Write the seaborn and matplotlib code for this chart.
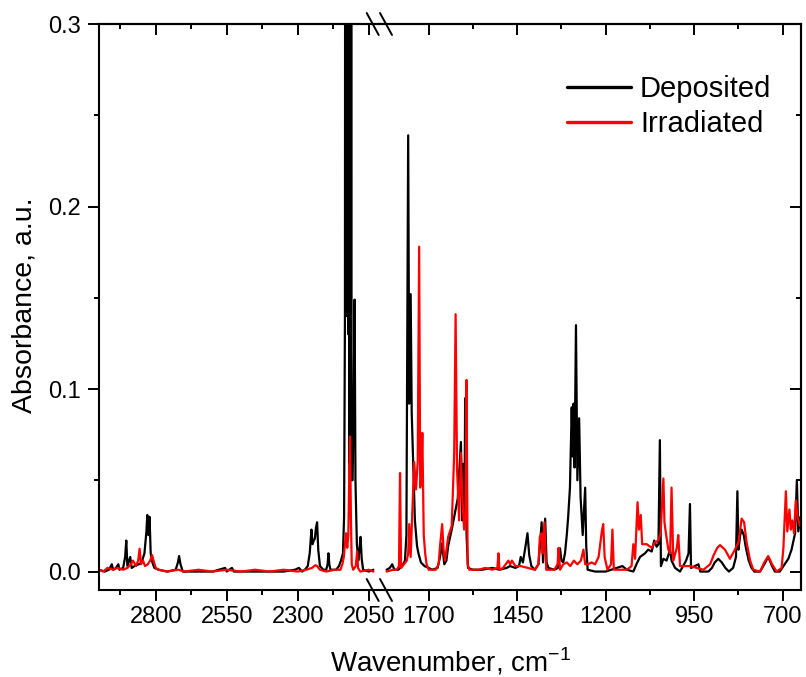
import matplotlib
matplotlib.use("Agg")
import matplotlib.pyplot as plt
from matplotlib.lines import Line2D
import pandas as pd
import seaborn as sns

# spectra: (wavenumber cm-1, absorbance)
deposited_high = [
    (3000, 0.001), (2980, 0.000), (2965, 0.001), (2955, 0.004), (2950, 0.001), (2940, 0.002),
    (2932, 0.004), (2928, 0.001), (2915, 0.002), (2908, 0.008), (2904, 0.017), (2900, 0.003),
    (2890, 0.008), (2885, 0.002), (2875, 0.003), (2860, 0.004), (2850, 0.005), (2840, 0.010),
    (2833, 0.022), (2830, 0.031), (2826, 0.020), (2822, 0.030), (2818, 0.010), (2812, 0.005),
    (2805, 0.002), (2790, 0.001), (2760, 0.000), (2730, 0.001), (2722, 0.005), (2718, 0.0085),
    (2713, 0.004), (2705, 0.000), (2650, 0.000), (2600, 0.000), (2556, 0.002), (2550, 0.000),
    (2532, 0.002), (2525, 0.000), (2450, 0.000), (2400, 0.000), (2350, 0.000), (2310, 0.001),
    (2296, 0.002), (2285, 0.000), (2275, 0.001), (2265, 0.003), (2258, 0.010), (2252, 0.023),
    (2248, 0.015), (2244, 0.017), (2240, 0.018), (2236, 0.024), (2232, 0.027), (2228, 0.012),
    (2222, 0.003), (2210, 0.001), (2200, 0.001), (2195, 0.004), (2192, 0.010), (2189, 0.004),
    (2185, 0.001), (2165, 0.001), (2155, 0.003), (2148, 0.006), (2141, 0.010), (2137, 0.030),
    # saturated, noisy band
    (2134, 0.14), (2133, 0.45), (2132, 0.15), (2131, 0.50), (2130, 0.14), (2129, 0.50),
    (2128, 0.16), (2127, 0.50), (2126, 0.14), (2125, 0.50), (2124, 0.15), (2123, 0.50),
    (2122, 0.13), (2120, 0.50), (2119, 0.06), (2118, 0.50), (2117, 0.05), (2116, 0.50),
    (2115, 0.06), (2114, 0.50), (2113, 0.05), (2112, 0.50), (2111, 0.10),
    (2107, 0.050), (2103, 0.100), (2100, 0.149), (2097, 0.050),
    (2092, 0.015), (2087, 0.006), (2083, 0.012), (2079, 0.019), (2075, 0.007), (2070, 0.001),
    (2050, 0.000), (2034, 0.001),
]
irradiated_high = [
    (3000, 0.001), (2985, 0.000), (2970, 0.002), (2950, 0.001), (2935, 0.002), (2915, 0.001),
    (2900, 0.002), (2888, 0.004), (2880, 0.006), (2870, 0.003), (2862, 0.006), (2857, 0.0125),
    (2852, 0.004), (2845, 0.006), (2838, 0.003), (2828, 0.004), (2820, 0.006), (2813, 0.009),
    (2808, 0.006), (2800, 0.002), (2790, 0.001), (2760, 0.000), (2720, 0.001), (2700, 0.000),
    (2650, 0.001), (2600, 0.000), (2550, 0.001), (2500, 0.000), (2450, 0.001), (2400, 0.000),
    (2350, 0.001), (2300, 0.000), (2270, 0.001), (2250, 0.002), (2238, 0.0035), (2232, 0.003),
    (2222, 0.001), (2200, 0.000), (2170, 0.001), (2150, 0.001), (2143, 0.004), (2138, 0.008),
    (2134, 0.015), (2130, 0.021), (2126, 0.013), (2122, 0.020), (2119, 0.050), (2116, 0.074),
    (2113, 0.030), (2110, 0.004), (2105, 0.001), (2096, 0.003), (2091, 0.011), (2088, 0.002),
    (2080, 0.000), (2050, 0.001), (2034, 0.000),
]
deposited_low = [
    (1819, 0.001), (1810, 0.002), (1803, 0.004), (1797, 0.001), (1786, 0.001), (1775, 0.003),
    (1767, 0.006), (1763, 0.020), (1760, 0.150), (1758, 0.239), (1755, 0.092), (1751, 0.152),
    (1748, 0.087), (1744, 0.060), (1739, 0.028), (1733, 0.014), (1729, 0.010), (1722, 0.005),
    (1712, 0.003), (1700, 0.002), (1690, 0.001), (1675, 0.002), (1668, 0.008), (1662, 0.0155),
    (1656, 0.004), (1650, 0.006), (1645, 0.014), (1635, 0.023), (1626, 0.032), (1618, 0.040),
    (1614, 0.054), (1609, 0.071), (1605, 0.028), (1602, 0.059), (1599, 0.028), (1597, 0.095),
    (1593, 0.020), (1589, 0.002), (1575, 0.001), (1550, 0.001), (1520, 0.002), (1500, 0.001),
    (1480, 0.002), (1470, 0.003), (1455, 0.002), (1445, 0.003), (1440, 0.008), (1434, 0.005),
    (1428, 0.012), (1421, 0.021), (1416, 0.009), (1410, 0.003), (1400, 0.001), (1390, 0.004),
    (1386, 0.0135), (1381, 0.027), (1377, 0.005), (1371, 0.029), (1367, 0.005), (1362, 0.002),
    (1345, 0.001), (1335, 0.002), (1329, 0.0127), (1325, 0.006), (1320, 0.005), (1315, 0.010),
    (1310, 0.020), (1306, 0.030), (1301, 0.046), (1296, 0.090), (1293, 0.063), (1291, 0.092),
    (1288, 0.057), (1284, 0.135), (1280, 0.050), (1275, 0.084), (1271, 0.041), (1265, 0.020),
    (1258, 0.046), (1255, 0.014), (1251, 0.001), (1230, 0.000), (1200, 0.000), (1153, 0.003),
    (1140, 0.001), (1122, 0.000), (1112, 0.0045), (1103, 0.008), (1089, 0.010), (1080, 0.012),
    (1070, 0.011), (1063, 0.017), (1056, 0.0136), (1051, 0.015), (1047, 0.072), (1044, 0.003),
    (1037, 0.007), (1028, 0.006), (1018, 0.012), (1014, 0.006), (1004, 0.002), (990, 0.000),
    (973, 0.006), (966, 0.010), (962, 0.037), (959, 0.002), (948, 0.003), (938, 0.004),
    (933, 0.000), (910, 0.000), (900, 0.002), (892, 0.005), (882, 0.007), (872, 0.005),
    (862, 0.002), (852, 0.000), (840, 0.002), (832, 0.008), (828, 0.044), (825, 0.012),
    (820, 0.020), (816, 0.023), (810, 0.020), (804, 0.013), (796, 0.006), (788, 0.002),
    (780, 0.000), (764, 0.000), (752, 0.004), (741, 0.008), (730, 0.003), (722, 0.000),
    (708, 0.000), (698, 0.003), (684, 0.007), (675, 0.012), (665, 0.021), (660, 0.050),
    (656, 0.022), (650, 0.030),
]
irradiated_low = [
    (1819, 0.000), (1800, 0.001), (1790, 0.001), (1784, 0.003), (1781, 0.054), (1778, 0.002),
    (1770, 0.004), (1762, 0.006), (1758, 0.010), (1755, 0.026), (1751, 0.008), (1745, 0.040),
    (1741, 0.060), (1736, 0.045), (1731, 0.060), (1727, 0.178), (1724, 0.046), (1721, 0.050),
    (1718, 0.076), (1714, 0.020), (1710, 0.010), (1706, 0.004), (1700, 0.001), (1680, 0.001),
    (1672, 0.004), (1668, 0.014), (1662, 0.026), (1658, 0.012), (1654, 0.006), (1645, 0.019),
    (1635, 0.025), (1628, 0.065), (1624, 0.141), (1620, 0.056), (1614, 0.028), (1609, 0.065),
    (1605, 0.041), (1600, 0.023), (1596, 0.030), (1593, 0.105), (1590, 0.004), (1585, 0.001),
    (1560, 0.001), (1540, 0.002), (1520, 0.001), (1506, 0.002), (1503, 0.010), (1500, 0.001),
    (1490, 0.002), (1475, 0.006), (1470, 0.004), (1465, 0.006), (1455, 0.003), (1440, 0.003),
    (1420, 0.002), (1400, 0.001), (1390, 0.004), (1386, 0.019), (1381, 0.021), (1378, 0.010),
    (1373, 0.027), (1368, 0.001), (1345, 0.001), (1336, 0.004), (1333, 0.013), (1329, 0.001),
    (1320, 0.004), (1310, 0.005), (1300, 0.003), (1290, 0.006), (1280, 0.004), (1270, 0.006),
    (1263, 0.012), (1258, 0.004), (1250, 0.004), (1240, 0.005), (1230, 0.004), (1220, 0.008),
    (1211, 0.022), (1207, 0.026), (1203, 0.008), (1195, 0.001), (1185, 0.004), (1181, 0.023),
    (1177, 0.001), (1160, 0.001), (1140, 0.001), (1127, 0.003), (1122, 0.015), (1117, 0.007),
    (1110, 0.038), (1106, 0.023), (1101, 0.031), (1097, 0.015), (1084, 0.015), (1070, 0.013),
    (1061, 0.016), (1051, 0.017), (1045, 0.021), (1037, 0.051), (1034, 0.027), (1030, 0.021),
    (1023, 0.012), (1018, 0.010), (1014, 0.046), (1009, 0.006), (999, 0.013), (995, 0.020),
    (990, 0.003), (962, 0.003), (924, 0.001), (905, 0.004), (895, 0.009), (885, 0.013),
    (877, 0.0145), (863, 0.012), (849, 0.007), (835, 0.012), (825, 0.016), (816, 0.029),
    (809, 0.027), (802, 0.016), (792, 0.006), (783, 0.001), (764, 0.000), (752, 0.005),
    (741, 0.0085), (730, 0.004), (717, 0.000), (703, 0.002), (698, 0.013), (691, 0.044),
    (687, 0.022), (681, 0.034), (677, 0.023), (673, 0.028), (668, 0.021), (663, 0.039),
    (658, 0.030), (651, 0.025),
]

high_major = [2800, 2550, 2300, 2050]
high_minor = [2925, 2675, 2425, 2175]
low_major = [1700, 1450, 1200, 950, 700]
low_minor = [1575, 1325, 1075, 825]
y_major = [0.0, 0.1, 0.2, 0.3]
y_minor = [0.05, 0.15, 0.25]

sns.set_theme(style="ticks", rc={
    "axes.edgecolor": "black", "axes.linewidth": 1.5, "xtick.color": "black",
    "ytick.color": "black", "text.color": "black", "axes.labelcolor": "black",
})
plt.rcParams["font.family"] = ["Liberation Sans", "DejaVu Sans"]
plt.rcParams["mathtext.fontset"] = "custom"
plt.rcParams["mathtext.rm"] = "Liberation Sans"

W, H = 806, 677
fig = plt.figure(figsize=(W / 100, H / 100), dpi=100)
x0, xb, x1, ytop, ybot = 99, 379.5, 801, 24, 590
ax1 = fig.add_axes([x0 / W, 1 - ybot / H, (xb - x0) / W, (ybot - ytop) / H])
ax2 = fig.add_axes([xb / W, 1 - ybot / H, (x1 - xb) / W, (ybot - ytop) / H])


def to_df(pairs):
    return pd.DataFrame(pairs, columns=["wn", "absorb"])


panels = [
    (ax1, deposited_high, irradiated_high, (3000, 2012.3), high_major, high_minor),
    (ax2, deposited_low, irradiated_low, (1839, 648.3), low_major, low_minor),
]
for ax, dep, irr, xlim, major, minor in panels:
    sns.lineplot(data=to_df(dep), x="wn", y="absorb", color="black", linewidth=1.6,
                 sort=False, estimator=None, ax=ax, label="Deposited")
    sns.lineplot(data=to_df(irr), x="wn", y="absorb", color="#ff0000", linewidth=1.6,
                 sort=False, estimator=None, ax=ax, label="Irradiated")
    ax.set_xlim(*xlim)
    ax.set_ylim(-0.0101, 0.3)
    ax.set_xlabel("")
    ax.set_ylabel("")
    ax.set_xticks(major)
    ax.set_xticks(minor, minor=True)
    ax.set_yticks(y_major)
    ax.set_yticks(y_minor, minor=True)
    ax.tick_params(axis="x", which="both", direction="out", top=False, bottom=True,
                   width=1.4, labelsize=17, pad=4)
    ax.tick_params(which="major", length=7.7)
    ax.tick_params(which="minor", length=3.5, width=1.4)
    # mirrored ticks on top point inward
    sec = ax.secondary_xaxis("top")
    sec.set_xticks(major)
    sec.set_xticks(minor, minor=True)
    sec.tick_params(which="both", direction="in", labeltop=False, width=1.4)
    sec.tick_params(which="major", length=7.7)
    sec.tick_params(which="minor", length=3.5)
    sec.spines["top"].set_linewidth(1.5)
    if ax.get_legend() is not None:
        ax.get_legend().remove()

ax1.spines["right"].set_visible(False)
ax2.spines["left"].set_visible(False)
ax1.set_yticklabels([f"{v:.1f}" for v in y_major])
ax1.tick_params(axis="y", which="both", direction="out", left=True, right=False,
                labelsize=17, pad=5.5, width=1.4)
ax2.tick_params(axis="y", which="both", left=False, right=False, labelleft=False)
sec_y = ax2.secondary_yaxis("right")
sec_y.set_yticks(y_major)
sec_y.set_yticks(y_minor, minor=True)
sec_y.tick_params(which="both", direction="in", labelright=False, width=1.4)
sec_y.tick_params(which="major", length=7.7)
sec_y.tick_params(which="minor", length=3.5)
sec_y.spines["right"].set_linewidth(1.5)

handles, labels = ax2.get_legend_handles_labels()
leg = ax2.legend(handles, labels, loc="upper left", bbox_to_anchor=(567 / W, 1 - 75 / H),
                 bbox_transform=fig.transFigure, frameon=False, fontsize=21,
                 handlelength=2.2, handletextpad=0.3, borderpad=0, borderaxespad=0,
                 labelspacing=0.25)
for line in leg.get_lines():
    line.set_linewidth(2.4)

# axis break marks
for yc in (ytop, ybot):
    for xs in (366.7, 380.0):
        fig.add_artist(Line2D([xs / W, (xs + 12) / W], [1 - (yc - 11) / H, 1 - (yc + 11) / H],
                              transform=fig.transFigure, color="black", linewidth=1.4))

fig.text(450 / W, 1 - 671.5 / H, "Wavenumber, cm$^{\\mathregular{-1}}$", ha="center",
         va="baseline", fontsize=20)
fig.text(24.5 / W, 1 - 305 / H, "Absorbance, a.u.", rotation=90, ha="center",
         va="center", fontsize=20.5)

fig.savefig("out.png", dpi=100)
